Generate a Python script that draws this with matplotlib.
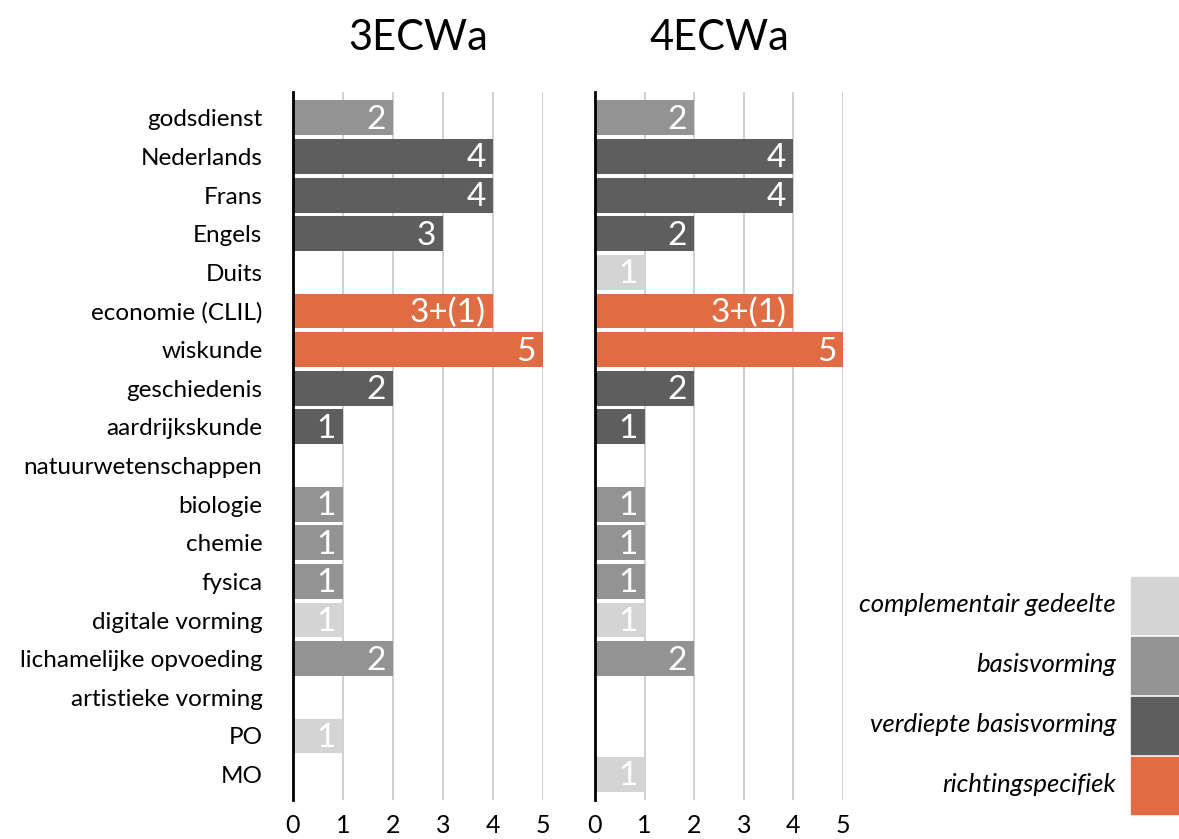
import matplotlib.pyplot as plt
from matplotlib.patches import Rectangle

plt.rcParams['font.family'] = ['Lato', 'DejaVu Sans']

vakken = ['godsdienst', 'Nederlands', 'Frans', 'Engels', 'Duits',
          'economie (CLIL)', 'wiskunde', 'geschiedenis', 'aardrijkskunde',
          'natuurwetenschappen', 'biologie', 'chemie', 'fysica',
          'digitale vorming', 'lichamelijke opvoeding', 'artistieke vorming',
          'PO', 'MO']

# uren per week (0 = geen balk) en soort vorming per vak
uren_3 = [2, 4, 4, 3, 0, 4, 5, 2, 1, 0, 1, 1, 1, 1, 2, 0, 1, 0]
soort_3 = ['B', 'V', 'V', 'V', '', 'R', 'R', 'V', 'V', '', 'B', 'B', 'B', 'C', 'B', '', 'C', '']
tekst_3 = ['2', '4', '4', '3', '', '3+(1)', '5', '2', '1', '', '1', '1', '1', '1', '2', '', '1', '']

uren_4 = [2, 4, 4, 2, 1, 4, 5, 2, 1, 0, 1, 1, 1, 1, 2, 0, 0, 1]
soort_4 = ['B', 'V', 'V', 'V', 'C', 'R', 'R', 'V', 'V', '', 'B', 'B', 'B', 'C', 'B', '', '', 'C']
tekst_4 = ['2', '4', '4', '2', '1', '3+(1)', '5', '2', '1', '', '1', '1', '1', '1', '2', '', '', '1']

klassen = ['3ECWa', '4ECWa']

legend_labels = ['complementair gedeelte', 'basisvorming',
                 'verdiepte basisvorming', 'richtingspecifiek']
legend_keys = ['C', 'B', 'V', 'R']
kleuren = {'C': '#d4d4d4', 'B': '#939393', 'V': '#5e5e5e', 'R': '#e06c43'}

W, H = 1179, 839
fig = plt.figure(figsize=(W / 100, H / 100), dpi=100)

def px_axes(x0, x1, y0, y1):
    return fig.add_axes([x0 / W, 1 - y1 / H, (x1 - x0) / W, (y1 - y0) / H])

ax1 = px_axes(293, 543, 92, 800)
ax2 = px_axes(595, 843, 92, 800)

data = [(uren_3, soort_3, tekst_3), (uren_4, soort_4, tekst_4)]
for i, (ax, (uren, soort, tekst)) in enumerate(zip([ax1, ax2], data)):
    ypos = list(range(len(vakken)))
    cols = [kleuren.get(s, 'white') for s in soort]
    ax.barh(ypos, uren, height=0.9, color=cols, zorder=2)
    for y, u, t in zip(ypos, uren, tekst):
        if u > 0:
            ax.text(u - 0.14, y + 0.05, t, ha='right', va='center',
                    color='white', fontsize=24, zorder=3)
    ax.set_xlim(0, 5)
    ax.set_ylim(len(vakken) - 0.34, -0.67)
    ax.set_xticks(range(6))
    ax.xaxis.grid(True, color='#c8c8c8', linewidth=1.2, zorder=0)
    ax.tick_params(axis='x', length=0, labelsize=18, pad=10)
    ax.tick_params(axis='y', length=0, labelsize=17.5, pad=22)
    for s in ['top', 'right', 'bottom']:
        ax.spines[s].set_visible(False)
    ax.spines['left'].set_linewidth(2)
    ax.spines['left'].set_color('black')
    ax.spines['left'].set_zorder(4)
    if i == 0:
        ax.set_yticks(ypos)
        ax.set_yticklabels(vakken)
    else:
        ax.set_yticks([])
    ax.set_title(klassen[i], fontsize=30, pad=30)

# legende rechts onder
lax = fig.add_axes([0, 0, 1, 1])
lax.set_xlim(0, W)
lax.set_ylim(H, 0)
lax.axis('off')
top = 577
hh = 60
for k, (lab, key) in enumerate(zip(legend_labels, legend_keys)):
    y0 = top + k * hh
    lax.add_patch(Rectangle((1131, y0), 48, hh - 3, color=kleuren[key]))
    lax.text(1116, y0 + hh / 2 - 2, lab, ha='right', va='center',
             fontsize=18.5, style='italic')

fig.savefig('out.png', dpi=100)
